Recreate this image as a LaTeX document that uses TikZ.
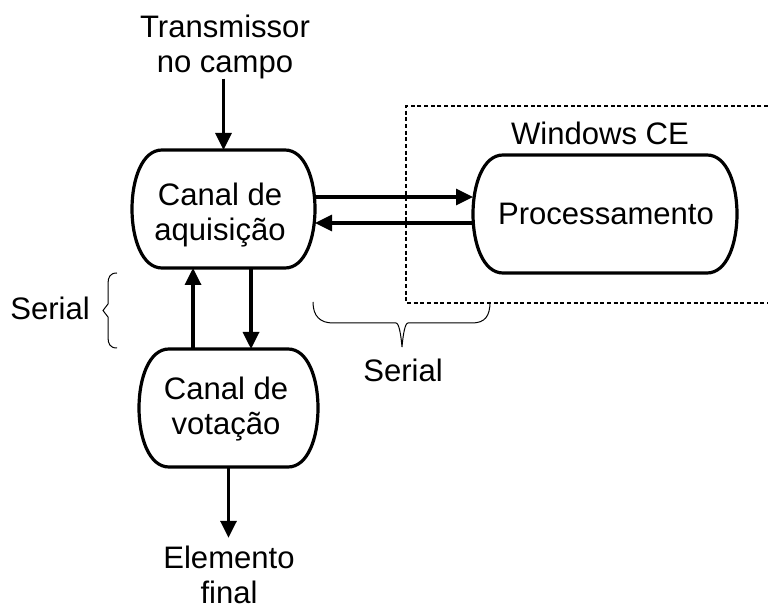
\documentclass[tikz,border=0pt]{standalone}
\usepackage{fontspec}
\setmainfont{Liberation Sans}
\usetikzlibrary{arrows.meta}
\tikzset{
  px/.style={x=0.75pt,y=-0.75pt},
  boxline/.style={line width=2.4pt, line join=round},
  pillarea/.style={rectangle, draw=none, inner sep=0pt, outer sep=0pt, minimum height=88.5pt},
  txt/.style={inner sep=0pt, align=center, font=\fontsize{23.3pt}{26.25pt}\selectfont},
  link/.style={line width=2.4pt, -{Triangle[length=12.75pt,width=12pt]}},
  winframe/.style={line width=1.8pt, dash pattern=on 3pt off 2pt},
  bracket/.style={line width=0.75pt},
}
% outline of a pill-shaped box around the named node
\newcommand\pilloutline[1]{%
  \draw[boxline] ([xshift=22.5pt]#1.north west) -- ([xshift=-22.5pt]#1.north east)
    .. controls ([xshift=7.5pt]#1.north east) and ([xshift=7.5pt]#1.south east) .. ([xshift=-22.5pt]#1.south east)
    -- ([xshift=22.5pt]#1.south west)
    .. controls ([xshift=-7.5pt]#1.south west) and ([xshift=-7.5pt]#1.north west) .. cycle;}
\begin{document}
\begin{tikzpicture}[px]
\useasboundingbox (0,0) rectangle (768,609);

% Windows CE region
\draw[winframe] (768,106) -- (406,106) -- (406,303) -- (768,303);

% boxes
\node[pillarea, minimum width=137.25pt] (aq) at (223.5,209) {};
\node[pillarea, minimum width=198pt] (proc) at (605,214) {};
\node[pillarea, minimum width=134.25pt] (vot) at (228.5,408) {};
\pilloutline{aq}
\pilloutline{proc}
\pilloutline{vot}

% texts
\node[txt] (src) at (225,46.5) {Transmissor\\no campo};
\node[txt] (aqt) at (220,215.5) {Canal de\\aquisição};
\node[txt, anchor=base] (proct) at (606,225) {Processamento};
\node[txt, anchor=base] (wce) at (600,145) {Windows CE};
\node[txt] (vott) at (226,409.5) {Canal de\\votação};
\node[txt] (dst) at (229,575) {Elemento\\final};
\node[txt, anchor=base] (ser1) at (50,320) {Serial};
\node[txt, anchor=base] (ser2) at (403,382) {Serial};

% connectors
\draw[link] (aq.north |- src.south) -- (aq.north);
\draw[link] ([yshift=9pt]aq.east) -- ([yshift=9pt]aq.east -| proc.west);
\draw[link] ([yshift=-10.5pt]aq.east -| proc.west) -- ([yshift=-10.5pt]aq.east);
\draw[link] ([xshift=-26.6pt]vot.north) -- ([xshift=-26.6pt]vot.north |- aq.south);
\draw[link] ([xshift=16.9pt]vot.north |- aq.south) -- ([xshift=16.9pt]vot.north);
\draw[link] (vot.south) -- ([yshift=6pt]vot.south |- dst.north);

% braces
\draw[bracket] (117,273) .. controls (110,273) and (108,277) .. (108,284) -- (108,304)
  -- (103,310.5) -- (108,317) -- (108,337) .. controls (108,344) and (110,348) .. (117,348);
\draw[bracket] (313,302) .. controls (313,316) and (320,323) .. (333,323) -- (396,323)
  .. controls (399,323) and (401,335) .. (402,347) .. controls (403,335) and (405,323) .. (408,323)
  -- (472,323) .. controls (485,323) and (490,316) .. (490,302);
\end{tikzpicture}
\end{document}
